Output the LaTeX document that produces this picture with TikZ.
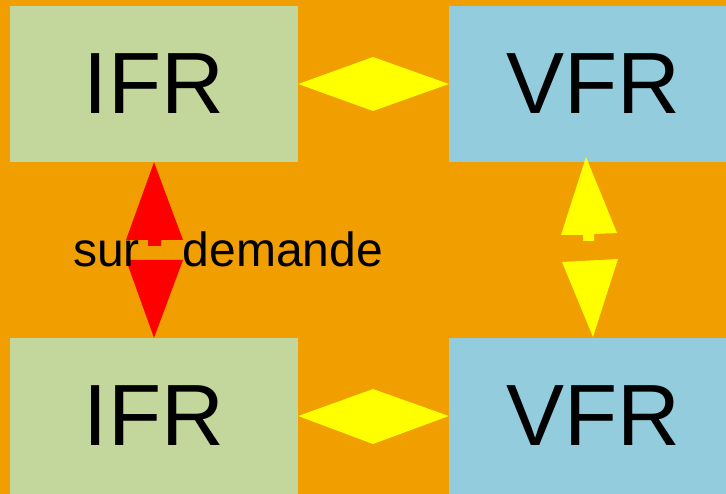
\documentclass[tikz,border=0pt]{standalone}
\usepackage{fontspec}
\setmainfont{Liberation Sans}
\definecolor{bgorange}{HTML}{F09E00}
\definecolor{ifrgreen}{HTML}{C3D69B}
\definecolor{vfrblue}{HTML}{93CDDD}
\definecolor{arrred}{HTML}{FF0000}
\definecolor{arryellow}{HTML}{FFFF00}
\begin{document}
\begin{tikzpicture}[x=1pt,y=-1pt,
  box/.style={rectangle, inner sep=0pt, minimum width=288pt, minimum height=156pt,
    font=\fontsize{87}{87}\selectfont, text=black},
  ifrbox/.style={box, fill=ifrgreen},
  vfrbox/.style={box, fill=vfrblue},
  lbl/.style={inner sep=0pt, font=\fontsize{48}{48}\selectfont, text=black}]
\useasboundingbox (0,0) rectangle (726,494);
\clip (0,0) rectangle (726,494);
\fill[bgorange] (0,0) rectangle (726,494);
\node[ifrbox] (ifr1) at (154,84) {IFR};
\node[vfrbox] (vfr1) at (593,84) {VFR};
\node[ifrbox] (ifr2) at (154,416) {IFR};
\node[vfrbox] (vfr2) at (593,416) {VFR};
% horizontal double arrows
\fill[arryellow] (ifr1.east) -- (373,57) -- (vfr1.west) -- (373,111) -- cycle;
\fill[arryellow] (ifr2.east) -- (373,389) -- (vfr2.west) -- (373,444) -- cycle;
% red vertical double arrow
\fill[arrred] (ifr1.south) -- (183,240) -- (161,240) -- (161,246) -- (148,246) -- (148,240) -- (126,240) -- cycle;
\fill[arrred] (126,260) -- (183,260) -- (ifr2.north) -- cycle;
% yellow vertical double arrow
\coordinate (ytop) at (586,157);
\coordinate (ybot) at (593,337);
\fill[arryellow] (ytop) -- (617,233) -- (594,234) -- (594,241) -- (583,241) -- (583,235) -- (561,235) -- cycle;
\fill[arryellow] (562,262) -- (618,259) -- (ybot) -- cycle;
\node[lbl, anchor=base west] (sd) at (73,267) {sur\hspace*{43pt}demande};
\end{tikzpicture}
\end{document}
